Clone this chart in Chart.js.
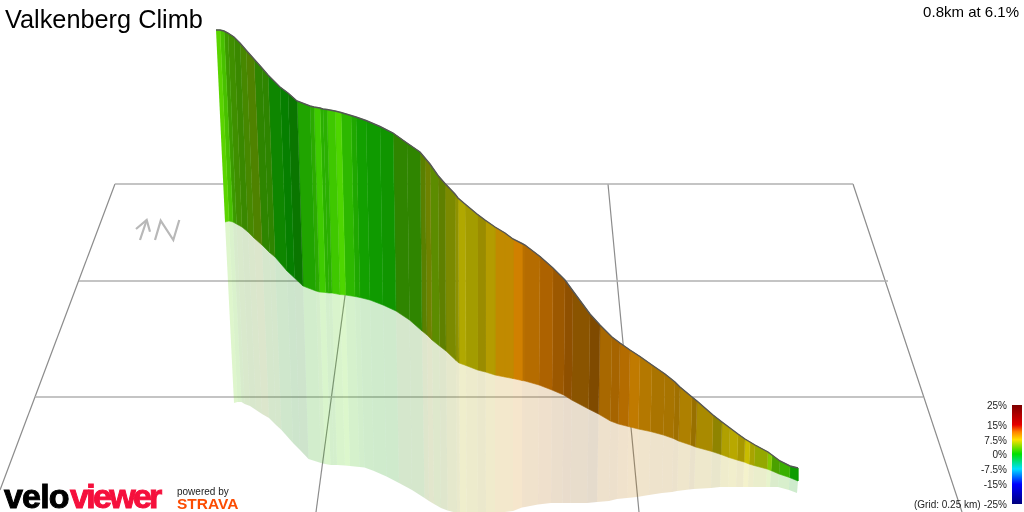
<!DOCTYPE html>
<html>
<head>
<meta charset="utf-8">
<title>Valkenberg Climb</title>
<script src="https://cdn.jsdelivr.net/npm/chart.js@4"></script>
<style>
  html, body { margin: 0; background: #fff; }
  canvas { display: block; }
</style>
</head>
<body>
<canvas id="chart-climb" width="1024" height="512"></canvas>
<script>
// Picture-space readings for each station along the climb
const topX = [216,220,224,228,234,240,246,254,262,268,280,288,297,310,314,320,323,327,335,341,351,356,366,380,393,407,420,425,430,438,445,455,458,465,477,485,495,505,513,522,525,540,553,565,573,590,600,612,620,630,640,652,665,675,680,692,697,713,722,730,738,745,750,755,768,772,780,790,798];
const topY = [30,30,31,33,37,43,50,59,68,75,87,93,101,106,107,108,109,109.5,111,112.5,115.5,117,120.5,126.5,133,143,152,158,164,175.5,183.5,194,198,204,214,220,227,233,239,243.5,245,256.5,268,280,291,314,325,337,343,350,356.5,365,374,382,387,397,401,415,422,428,434,439,442,445,452,455,461,466,468];
const baseX = [225,229,233,236.5,242,248,254,262,269.5,275,287,294.5,303,316,319.5,325.5,329,332,340,345.5,355,360,370,383,396,409.5,422,427,432,439.5,446,456,459,466,477.5,485.5,495,505,513,522,525,539,552,563.7,571.7,588.6,598.5,610.4,618.4,628.3,638.3,650.4,663.4,673.4,678.5,690.5,695.5,712,721,729,737,744,749,754,767,771,779,789.5,798];
const baseY = [222,221,222,224,227,232,238,245,252.5,257,271,278,286,291,292,292.5,293,293,294.5,295,296.5,297.5,300,305,311,320,331,335,340,346,351,360.5,363,365.5,370,372,375,377,378.5,380.5,381,385,390,395,400,409,414,421,424,426.5,429,431.5,435,438.5,441,445,447,451.5,454.5,457.5,460,462,464,465.5,469,470.5,474,477.5,481];
const shadeX = [234,237.5,241.5,244.6,250,256,262,269,276,281.5,293,300,308.5,321,325,330.5,334,337,345,350,359.5,364.5,374,386.5,399,412,424.5,429,434,441,447.5,457,460,466.5,478,486,495,505,513,522,525,538,551,562.5,570.5,587.2,597,609,617,627,637,649,662,672,677,689,694,711,720,728,736,743,748,753,766,770,778,789,797];
const shadeY = [403,402,402,404,406,410,414,418,425,430,443,450,459,463,464,465,465,465,465.5,466,467,467.5,471,476.5,483,490,498,501,504,508,510.5,513,513,514,514,514,513,512,511,507.5,507,504.5,503,503,503,503,502,501,499,498,497,495,493,492,491,489.5,489,488,487,487,487,487,487,487,487,487,487,490,493];
const stripColors = ['#5ad400','#48c000','#3c9a00','#3f8f00','#3a8800','#478800','#4f8200','#2e8500','#2e8500','#0e8600','#067f00','#0a7600','#20a400','#2bab00','#3fcb00','#2ab000','#2ab000','#3fc800','#4ed600','#2db800','#1fa800','#12a000','#0f9a00','#109500','#2f8500','#2f8500','#5a8000','#6e8200','#5c8c00','#5f8000','#7b8a00','#8f9200','#b0a800','#a39c00','#9a8c00','#b49c00','#c18a00','#c18a00','#d08000','#b87000','#b56c00','#ad6200','#9c5800','#8f5000','#8a5400','#7f4a00','#a86800','#a66400','#b46c00','#c07a00','#b47800','#aa7400','#a87400','#a07000','#ae8000','#987000','#a98a00','#8f8400','#b0a000','#b8a800','#a89800','#c8bc00','#a8a400','#94a800','#85c800','#4aa000','#3ab000','#0c9c00'];

// Ground grid
const gridRows = [[[115,184],[853,184]],[[79,281],[888,281]],[[35,397],[923,397]]];
const gridRuns = [[[115,184],[0,490]],[[853,184],[962,512]],[[360,184],[316,512]],[[608,184],[639,512]]];

// North marker
const arrowShaft = [[140,240],[146.7,220]];
const arrowHead = [[136,229],[146.7,220],[150,231.7]];
const northN = [[155,240],[160.7,220.7],[173.3,240],[179.3,220]];

// Colour key
const keyLabels = ['25%','15%','7.5%','0%','-7.5%','-15%','-25%'];
const keyLabelY = [405,425,440,454,469,484,504];
const keyStops = [0,0.2,0.27,0.35,0.495,0.646,0.8,1];
const keyColors = ['#7d0000','#e60000','#ff8000','#ffe000','#00e000','#00e0ff','#0000ff','#00007d'];
const keyBox = [[1012,405],[1022,405],[1022,504],[1012,504]];

const titleText = 'Valkenberg Climb';
const statText = '0.8km at 6.1%';
const gridNote = '(Grid: 0.25 km)';

const toPts = (xs, ys) => xs.map((x, i) => ({ x, y: ys[i] }));
const toXY = pairs => pairs.map(p => ({ x: p[0], y: p[1] }));

function fade(hex, alpha) {
  const n = parseInt(hex.slice(1), 16);
  return `rgba(${n >> 16},${(n >> 8) & 255},${n & 255},${alpha})`;
}

const canvas = document.getElementById('chart-climb');
const ctx = canvas.getContext('2d');

const keyGradient = ctx.createLinearGradient(0, 405, 0, 504);
keyStops.forEach((s, i) => keyGradient.addColorStop(s, keyColors[i]));

const strokeSet = (pts, color, width, order) => ({
  data: pts, showLine: true, borderColor: color, borderWidth: width,
  pointRadius: 0, fill: false, order
});

const datasets = [];

// Top edge sits above the wall
datasets.push(strokeSet(toPts(topX, topY), '#555555', 1.4, 0));

// Wall and ground shadow, one quad per strip
stripColors.forEach((color, i) => {
  datasets.push({
    data: [
      { x: topX[i], y: topY[i] }, { x: topX[i + 1], y: topY[i + 1] },
      { x: baseX[i + 1], y: baseY[i + 1] }, { x: baseX[i], y: baseY[i] }
    ],
    showLine: true, fill: 'shape', backgroundColor: color,
    borderColor: color, borderWidth: 0.6, pointRadius: 0, order: 1
  });
  datasets.push({
    data: [
      { x: baseX[i], y: baseY[i] }, { x: baseX[i + 1], y: baseY[i + 1] },
      { x: shadeX[i + 1], y: shadeY[i + 1] }, { x: shadeX[i], y: shadeY[i] }
    ],
    showLine: true, fill: 'shape', backgroundColor: fade(color, 0.2),
    borderWidth: 0, pointRadius: 0, order: 2
  });
});

gridRows.forEach(r => datasets.push(strokeSet(toXY(r), '#b0b0b0', 1.5, 3)));
gridRuns.forEach(r => datasets.push(strokeSet(toXY(r), '#8c8c8c', 1.2, 3)));

[arrowShaft, arrowHead, northN].forEach(p => datasets.push(strokeSet(toXY(p), '#b8b8b8', 2.2, 3)));

datasets.push({
  data: toXY(keyBox), showLine: true, fill: 'shape', backgroundColor: keyGradient,
  borderWidth: 0, pointRadius: 0, order: 3
});

// Text layer
const textLayer = {
  id: 'textLayer',
  afterDraw(chart) {
    const c = chart.ctx;
    c.save();
    c.textBaseline = 'alphabetic';
    c.fillStyle = '#000';

    c.textAlign = 'left';
    c.font = '25.3px "Liberation Sans"';
    c.fillText(titleText, 5, 28);

    c.textAlign = 'right';
    c.font = '15px "Liberation Sans"';
    c.fillText(statText, 1019, 17);

    c.font = '10px "Liberation Sans"';
    c.fillStyle = '#222';
    keyLabels.forEach((label, i) => c.fillText(label, 1007, keyLabelY[i] + 3.5));
    c.textAlign = 'left';
    c.fillText(gridNote, 914, 507.5);

    // Logos
    c.font = 'bold 34px "Liberation Sans"';
    c.lineWidth = 1;
    c.letterSpacing = '-0.8px';
    c.fillStyle = c.strokeStyle = '#000';
    c.fillText('velo', 4, 508);
    c.strokeText('velo', 4, 508);
    c.letterSpacing = '-2.7px';
    c.fillStyle = c.strokeStyle = '#f5103c';
    c.fillText('viewer', 70, 508);
    c.strokeText('viewer', 70, 508);
    c.letterSpacing = '0px';

    c.fillStyle = '#222';
    c.font = '10px "Liberation Sans"';
    c.fillText('powered by', 177, 495);
    c.fillStyle = '#fc4c02';
    c.font = 'bold 15.5px "Liberation Sans"';
    c.fillText('STRAVA', 177, 509);
    c.restore();
  }
};

new Chart(ctx, {
  type: 'scatter',
  data: { datasets },
  plugins: [textLayer],
  options: {
    responsive: false,
    animation: false,
    events: [],
    layout: { padding: 0 },
    plugins: { legend: { display: false }, tooltip: { enabled: false } },
    scales: {
      x: { type: 'linear', display: false, min: 0, max: 1024 },
      y: { type: 'linear', display: false, min: 0, max: 512, reverse: true }
    }
  }
});
</script>
</body>
</html>
